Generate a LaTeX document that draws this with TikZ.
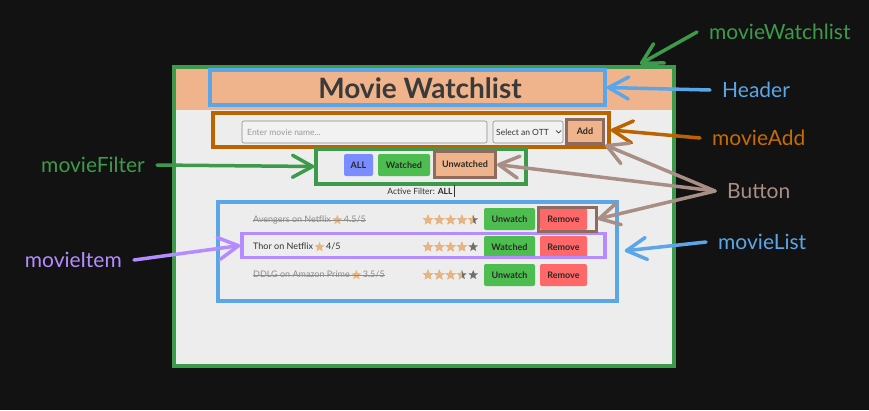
\documentclass[tikz,border=0pt]{standalone}
\usepackage{fontspec}
\setmainfont{Lato}
\usetikzlibrary{positioning,shapes.geometric,arrows.meta}

\definecolor{bgdark}{HTML}{121212}
\definecolor{framegreen}{HTML}{3D9A4B}
\definecolor{panel}{HTML}{EDEDED}
\definecolor{peach}{HTML}{EFB48B}
\definecolor{hdrblue}{HTML}{5AA6E8}
\definecolor{addorange}{HTML}{BB6300}
\definecolor{lblorange}{HTML}{C66C00}
\definecolor{btnbrown}{HTML}{8E6A5F}
\definecolor{mauve}{HTML}{A88E85}
\definecolor{itempurple}{HTML}{B48CFF}
\definecolor{btngreen}{HTML}{4DBD4F}
\definecolor{btnred}{HTML}{FF6868}
\definecolor{btnblue}{HTML}{7A8CFF}
\definecolor{btntext}{HTML}{2A2A2A}
\definecolor{titlegray}{HTML}{3A3A3A}
\definecolor{struck}{HTML}{8C8C8C}
\definecolor{rowdark}{HTML}{333333}
\definecolor{starpeach}{HTML}{E9B47F}
\definecolor{stargray}{HTML}{6E6E6E}
\definecolor{inputgray}{HTML}{8A8A8A}
\definecolor{inputfill}{HTML}{F2F2F2}
\definecolor{phgray}{HTML}{9A9A9A}

\begin{document}
\begin{tikzpicture}[x=1pt, y=-1pt,
  every node/.style={inner sep=0pt},
  outline/.style={draw=#1, line width=3.5pt, rectangle},
  btn/.style={fill=#1, rounded corners=2pt, minimum height=22pt, font=\fontsize{9}{10}\selectfont\bfseries, text=btntext},
  lbl/.style={text=#1, font=\fontsize{21}{24}\selectfont, inner xsep=12pt},
  arr/.style={draw=#1, line width=3.5pt, line cap=round, -{Straight Barb[length=20pt, width=22pt, round]}},
  small/.style={font=\fontsize{8.5}{10}\selectfont},
  rowtext/.style={font=\fontsize{9}{10}\selectfont, text height=6pt, text depth=2pt, anchor=west},
  mini/.style={star, star points=5, star point ratio=2.3, fill=starpeach, minimum size=10.5pt},
  rate/.style={star, star points=5, star point ratio=2.3, fill=#1, minimum size=11.5pt},
  strike/.style={draw=struck, line width=0.6pt},
]
\useasboundingbox (0,0) rectangle (869,410);
\fill[bgdark] (0,0) rectangle (869,410);

% app frame
\node[fill=panel, minimum width=500pt, minimum height=299pt] (watchlist) at (424,216.5) {};
\fill[peach] (watchlist.north west) rectangle (674,110);
\draw[framegreen, line width=4pt] (watchlist.north west) rectangle (watchlist.south east);
\coordinate (wltip) at (640,64);

% header
\node[outline=hdrblue, minimum width=395pt, minimum height=35pt] (header) at (407.5,87.5) {};
\node[font=\fontsize{28}{32}\selectfont\bfseries, text=titlegray] (title) at (420,88.5) {Movie Watchlist};

% add form
\node[outline=addorange, minimum width=396pt, minimum height=34pt] (addbox) at (411,130) {};
\node[draw=inputgray, line width=0.6pt, fill=inputfill, rounded corners=2pt, minimum width=245pt, minimum height=22pt] (input) at (364.5,132) {};
\node[small, text=phgray, anchor=west] (ph) at (247,132) {Enter movie name...};
\node[draw=inputgray, line width=0.6pt, fill=inputfill, rounded corners=2pt, minimum width=70pt, minimum height=22pt] (select) at (528,132) {};
\node[small, text=rowdark, anchor=west] (seltxt) at (496,132) {Select an OTT};
\draw[rowdark, line width=0.7pt] (556,130.5) -- (558.5,133) -- (561,130.5);
\node[btn=peach, draw=btnbrown, line width=3pt, rounded corners=0pt, minimum width=37pt, minimum height=24pt] (addbtn) at (585,131.5) {Add};

% filter
\node[outline=framegreen, minimum width=210pt, minimum height=35pt] (filter) at (421,166.5) {};
\node[btn=btnblue, minimum width=29pt] (allbtn) at (358.5,165) {ALL};
\node[btn=btngreen, minimum width=52pt] (watchedf) at (404,165) {Watched};
\node[btn=peach, draw=btnbrown, line width=3pt, rounded corners=0pt, minimum width=61pt, minimum height=26pt] (unwf) at (465,164.5) {Unwatched};
\node[small, text=rowdark] (af) at (420,191) {Active Filter: \textcolor{btntext}{\bfseries ALL}};
\draw[rowdark, line width=0.6pt] ([xshift=1.5pt]af.east) ++(0,-6) -- ++(0,12);

% list
\node[outline=hdrblue, minimum width=399pt, minimum height=99pt] (list) at (417.5,251.5) {};

\node[rowtext, text=struck] (t1) at (253,220) {Avengers on Netflix};
\node[mini, right=3pt of t1] (m1) {};
\node[rowtext, text=struck, right=3pt of m1] (s1) {4.5/5};
\draw[strike] (t1.west) -- (s1.east);
\node[btn=btngreen, minimum width=51pt] (uw1) at (509.5,219) {Unwatch};
\node[btn=btnred, minimum width=47pt] (rm1) at (563.5,219) {Remove};

\node[rowtext, text=rowdark] (t2) at (253,247) {Thor on Netflix};
\node[mini, right=3pt of t2] (m2) {};
\node[rowtext, text=rowdark, right=3pt of m2] (s2) {4/5};
\node[btn=btngreen, minimum width=51pt] (uw2) at (509.5,247) {Watched};
\node[btn=btnred, minimum width=47pt] (rm2) at (563.5,247) {Remove};

\node[rowtext, text=struck] (t3) at (253,275) {DDLG on Amazon Prime};
\node[mini, right=3pt of t3] (m3) {};
\node[rowtext, text=struck, right=3pt of m3] (s3) {3.5/5};
\draw[strike] (t3.west) -- (s3.east);
\node[btn=btngreen, minimum width=51pt] (uw3) at (509.5,275) {Unwatch};
\node[btn=btnred, minimum width=47pt] (rm3) at (563.5,275) {Remove};

% ratings
\foreach \y/\full/\half in {220/4/1, 247/4/0, 275/3/1} {
  \foreach \i in {1,...,5}
    \node[rate=stargray, minimum size=10pt] at ({416.7+11.3*\i},\y) {};
  \foreach \i in {1,...,\full}
    \node[rate=starpeach] at ({416.7+11.3*\i},\y) {};
  \ifnum\half=1
    \begin{scope}
      \clip ({416.7+11.3*(\full+1)-7},\y-8) rectangle ({416.7+11.3*(\full+1)},\y+8);
      \node[rate=starpeach] at ({416.7+11.3*(\full+1)},\y) {};
    \end{scope}
  \fi
}

\node[outline=itempurple, minimum width=363pt, minimum height=24pt] (item) at (423.5,245.5) {};
\node[draw=btnbrown, line width=3pt, minimum width=58pt, minimum height=24pt] (rmsel) at (567,219) {};

% labels
\node[lbl=framegreen, anchor=west] (wllbl) at (697,32) {movieWatchlist};
\node[lbl=hdrblue, anchor=west] (hdrlbl) at (710,90) {Header};
\node[lbl=lblorange, anchor=west] (addlbl) at (700,138) {movieAdd};
\node[lbl=mauve, anchor=west] (btnlbl) at (715,191) {Button};
\node[lbl=hdrblue, anchor=west] (listlbl) at (706,242) {movieList};
\node[lbl=framegreen, anchor=east] (filterlbl) at (157,165) {movieFilter};
\node[lbl=itempurple, anchor=east] (itemlbl) at (134,260) {movieItem};

% arrows
\draw[arr=framegreen] (wllbl.west) -- (wltip);
\draw[arr=hdrblue] (hdrlbl.west) -- (header.east);
\draw[arr=addorange] (addlbl.west) -- (addbox.east);
\draw[arr=mauve] (btnlbl.west) -- (addbtn.south east);
\draw[arr=mauve] (btnlbl.west) -- (unwf.east);
\draw[arr=mauve] (btnlbl.west) -- (rmsel.east);
\draw[arr=hdrblue, shorten >=6pt] (listlbl.west) -- (list.east);
\draw[arr=framegreen] (filterlbl.east) -- (filter.west);
\draw[arr=itempurple] (itemlbl.east) -- (item.west);
\end{tikzpicture}
\end{document}
